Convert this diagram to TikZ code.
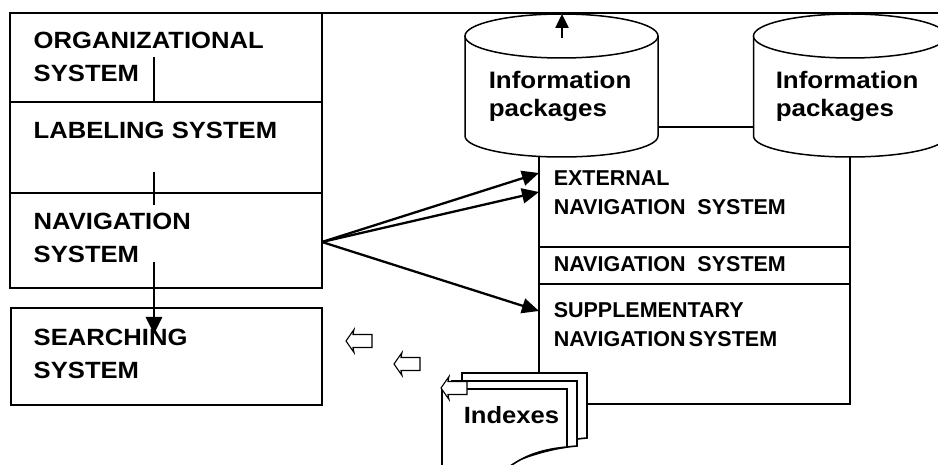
\documentclass[tikz,border=0pt]{standalone}
\usepackage{fontspec}
\setmainfont{Liberation Sans}
\newfontfamily\widesans{Liberation Sans}[FakeStretch=1.09]
\usetikzlibrary{arrows.meta}
\begin{document}
\begin{tikzpicture}[x=1pt,y=-1pt,line width=1.5pt,
  bigtxt/.style={anchor=base west,align=left,inner sep=0pt,font=\widesans\bfseries\fontsize{23.5}{33}\selectfont},
  cyltxt/.style={anchor=base west,align=left,inner sep=0pt,font=\widesans\bfseries\fontsize{23.8}{28}\selectfont},
  smalltxt/.style={anchor=base west,align=left,inner sep=0pt,font=\bfseries\fontsize{21.5}{29}\selectfont},
  conn/.style={line width=2.3pt,-{Triangle[length=17pt,width=15pt]}},
  link/.style={line width=2.3pt},
  page/.style={draw,fill=white,line width=1.6pt},
  hollowarrow/.pic={\draw[fill=white,line width=1.1pt] (0,0) -- (8,-11.5) -- (7,-6.5) -- (26,-6.5) -- (26,6.5) -- (7,6.5) -- (8,11.5) -- cycle;}]
\useasboundingbox (0,0) rectangle (938,465);
\clip (0,0) rectangle (938,465);
\fill[white] (0,0) rectangle (938,465);

% top line
\coordinate (topL) at (10,13);
\coordinate (topR) at (940,13);
\draw (topL) -- (topR);

% left stacked box
\draw (10,13) rectangle (322,288);
\draw (10,102) -- (322,102);
\draw (10,193) -- (322,193);

% searching box
\draw (11,308) rectangle (322,405);

% right box
\draw (539,157) -- (539,404) -- (850,404) -- (850,157);
\draw (539,247) -- (850,247);
\draw (539,284) -- (850,284);

% cylinders
\foreach \cx in {561.5,850}{
  \fill[white] (\cx-96.5,36) -- (\cx-96.5,136) arc[start angle=180,end angle=360,x radius=96.5,y radius=-21] -- (\cx+96.5,36) -- cycle;
  \draw (\cx-96.5,36) -- (\cx-96.5,136) arc[start angle=180,end angle=360,x radius=96.5,y radius=-21] -- (\cx+96.5,36);
  \draw[fill=white] (\cx,36) ellipse[x radius=96.5,y radius=22];
}
\coordinate (c1r) at (658,127);
\coordinate (c2l) at (753.5,127);
\draw (c1r) -- (c2l);

% up arrow in first cylinder
\coordinate (upS) at (562,38);
\coordinate (upE) at (562,14);
\draw[line width=2.5pt,-{Triangle[length=14pt,width=13pt]}] (upS) -- (upE);

% index pages
\draw[page] (462,440) -- (462,373) -- (587,373) -- (587,438) .. controls (560,440) and (530,450) .. (500,465) -- cycle;
\draw[page] (452,450) -- (452,381) -- (577,381) -- (577,446) .. controls (550,448) and (520,458) .. (490,472) -- cycle;
\draw[page] (442,480) -- (442,389) -- (567,389) -- (567,447) .. controls (545,449) and (525,454) .. (505,470) -- (480,480) -- cycle;

% hollow arrows
\pic at (346,341) {hollowarrow};
\pic at (394,364) {hollowarrow};
\pic at (441,388) {hollowarrow};

% texts (base anchor = baseline of last line)
\node[bigtxt] (org) at (33,82) {ORGANIZATIONAL\\SYSTEM};
\node[bigtxt] (lab) at (33,139) {LABELING SYSTEM};
\node[bigtxt] (nav) at (33,263) {NAVIGATION\\SYSTEM};
\node[bigtxt] (sea) at (33,378) {SEARCHING\\SYSTEM};
\node[cyltxt] (ip1) at (488,117) {Information\\packages};
\node[cyltxt] (ip2) at (775,117) {Information\\packages};
\node[bigtxt] (idx) at (463,423) {Indexes};
\node[smalltxt] (ext) at (553,215) {EXTERNAL\\NAVIGATION\ \ SYSTEM};
\node[smalltxt] (nsys) at (553,272) {NAVIGATION\ \ SYSTEM};
\node[smalltxt] (sup) at (553,347) {SUPPLEMENTARY\\NAVIGATION\hspace{0.15em}SYSTEM};

% vertical links in left column
\coordinate (v1a) at (154,57);
\coordinate (v1b) at (154,102);
\coordinate (v2a) at (154,172);
\coordinate (v2b) at (154,205);
\coordinate (v3a) at (154,262);
\coordinate (v3b) at (154,334);
\draw[link] (v1a) -- (v1b);
\draw[link] (v2a) -- (v2b);
\draw[line width=2.8pt,-{Triangle[length=17pt,width=16pt]}] (v3a) -- (v3b);

% arrows from navigation system
\coordinate (navout) at (322,242);
\coordinate (extin1) at (539,173);
\coordinate (extin2) at (539,192);
\coordinate (supin) at (539,311);
\draw[conn] (navout) -- (extin1);
\draw[conn] (navout) -- (extin2);
\draw[conn] (navout) -- (supin);
\end{tikzpicture}
\end{document}
